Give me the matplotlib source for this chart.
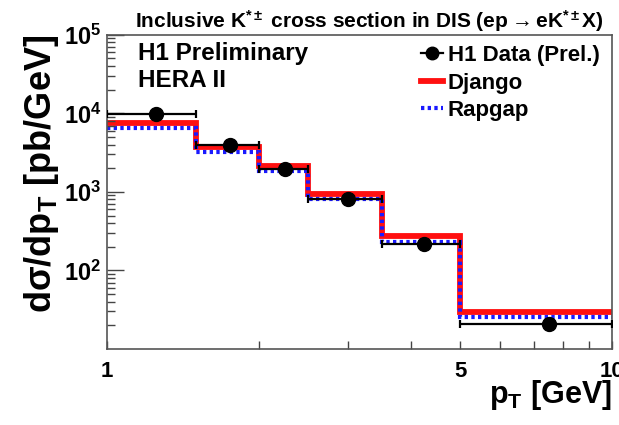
import numpy as np
import matplotlib
matplotlib.use("Agg")
import matplotlib.pyplot as plt
from matplotlib.ticker import FixedLocator, FixedFormatter, NullFormatter, LogLocator
from matplotlib.lines import Line2D

plt.rcParams['font.family'] = ['Liberation Sans', 'DejaVu Sans']
plt.rcParams['font.weight'] = 'bold'
plt.rcParams['axes.labelweight'] = 'bold'
plt.rcParams['axes.titleweight'] = 'bold'
plt.rcParams['mathtext.fontset'] = 'custom'
plt.rcParams['mathtext.rm'] = 'Liberation Sans:bold'
plt.rcParams['mathtext.bf'] = 'Liberation Sans:bold'
plt.rcParams['mathtext.it'] = 'Liberation Sans:bold'
plt.rcParams['mathtext.default'] = 'bf'

# pT bins [GeV]
bin_edges = [1.0, 1.5, 2.0, 2.5, 3.5, 5.0, 10.0]
data_x = [1.25, 1.75, 2.25, 3.0, 4.25, 7.5]
data_y = [9800, 3950, 1950, 810, 218, 21]
django = [7600, 3750, 2120, 950, 272, 29.5]
rapgap = [6450, 3250, 1840, 815, 232, 25.5]

fig = plt.figure(figsize=(6.19, 4.25), dpi=100)
ax = fig.add_axes([0.173, 0.179, 0.816, 0.739])

ax.stairs(django, bin_edges, baseline=None, color='#ff1010', lw=4.2)
ax.stairs(rapgap, bin_edges, baseline=None, color='#1a1aff', lw=3.0,
          linestyle=(0, (0.8, 0.8)))

xlo = [x - lo for x, lo in zip(data_x, bin_edges[:-1])]
xhi = [hi - x for x, hi in zip(data_x, bin_edges[1:])]
ax.errorbar(data_x, data_y, xerr=[xlo, xhi], fmt='o', color='black',
            ms=10, elinewidth=1.6, capsize=3, capthick=1.6, zorder=5)

ax.set_xscale('log')
ax.set_yscale('log')
ax.set_xlim(1, 10)
ax.set_ylim(10, 1e5)

ax.xaxis.set_major_locator(FixedLocator([1, 5, 10]))
ax.xaxis.set_major_formatter(FixedFormatter(['1', '5', '10']))
ax.xaxis.set_minor_locator(FixedLocator([2, 3, 4, 6, 7, 8, 9]))
ax.xaxis.set_minor_formatter(NullFormatter())
ax.yaxis.set_major_locator(FixedLocator([1e2, 1e3, 1e4, 1e5]))
ax.yaxis.set_major_formatter(FixedFormatter([r'$10^{2}$', r'$10^{3}$', r'$10^{4}$', r'$10^{5}$']))
ax.yaxis.set_minor_locator(LogLocator(base=10, subs=np.arange(2, 10)))
ax.yaxis.set_minor_formatter(NullFormatter())

ax.tick_params(axis='both', which='both', direction='in', top=False, right=False,
               width=1, color='#444444')
ax.tick_params(axis='y', which='major', length=12, labelsize=17, pad=4)
ax.tick_params(axis='y', which='minor', length=6)
ax.tick_params(axis='x', which='both', length=6, labelsize=16, pad=9)
for s in ax.spines.values():
    s.set_color('#555555')
    s.set_linewidth(1.2)

ax.set_ylabel(r'dσ/dp$_{T}$ [pb/GeV]', fontsize=26, loc='top', labelpad=2)
ax.set_xlabel(r'p$_{T}$ [GeV]', fontsize=22, loc='right', labelpad=-3)
ax.set_title(r'Inclusive K$^{*\pm}$ cross section in DIS (ep$\rightarrow$eK$^{*\pm}$X)',
             fontsize=15, pad=5, x=0.52)

ax.text(0.061, 0.94, 'H1 Preliminary', transform=ax.transAxes, fontsize=17.5, va='center')
ax.text(0.061, 0.855, 'HERA II', transform=ax.transAxes, fontsize=17.5, va='center')

handles = [
    Line2D([], [], color='black', marker='o', ms=9, lw=1.6),
    Line2D([], [], color='#ff1010', lw=4.2),
    Line2D([], [], color='#1a1aff', lw=3.0, linestyle=(0, (0.8, 0.8))),
]
ax.legend(handles, ['H1 Data (Prel.)', 'Django', 'Rapgap'], loc='upper right',
          bbox_to_anchor=(0.995, 1.0), frameon=False, fontsize=16,
          handlelength=1.0, handletextpad=0.2, labelspacing=0.3, borderaxespad=0.3,
          borderpad=0.15)

fig.savefig('out.png', dpi=100)
